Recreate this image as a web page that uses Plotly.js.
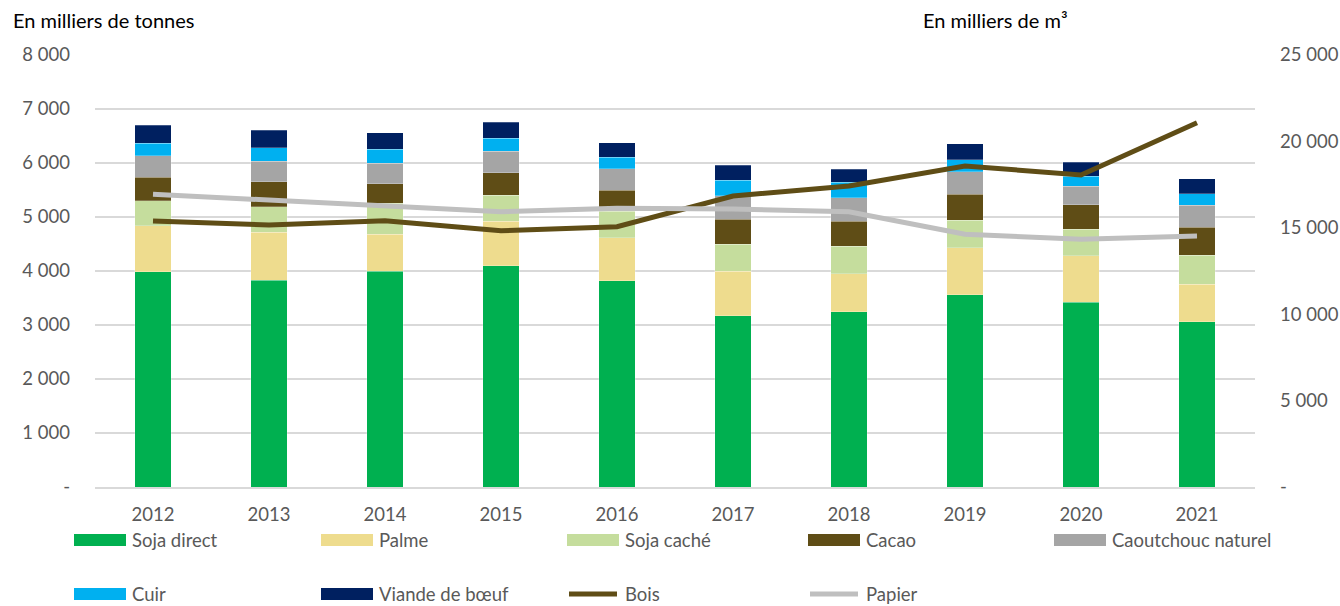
<!DOCTYPE html>
<html>
<head>
<meta charset="utf-8">
<script src="https://cdn.plot.ly/plotly-3.0.1.min.js"></script>
<style>html,body{margin:0;padding:0;background:#fff;}#chart{width:1340px;height:606px;}</style>
</head>
<body>
<div id="chart"></div>
<script>
const years = ['2012','2013','2014','2015','2016','2017','2018','2019','2020','2021'];
const sojaDirect = [3987, 3833, 3994, 4099, 3815, 3167, 3241, 3562, 3420, 3056];
const palme      = [852, 883, 691, 827, 802, 827, 710, 870, 858, 697];
const sojaCache  = [463, 475, 568, 475, 488, 506, 512, 512, 494, 537];
const cacao      = [433, 463, 364, 420, 395, 463, 463, 476, 456, 519];
const caoutchouc = [395, 383, 383, 401, 389, 426, 432, 420, 340, 407];
const cuir       = [240, 247, 253, 235, 216, 296, 290, 216, 191, 216];
const viande     = [328, 321, 309, 296, 272, 278, 235, 296, 254, 278];
const bois       = [15394, 15162, 15411, 14833, 15064, 16840, 17419, 18576, 18056, 21083];
const papier     = [16939, 16609, 16319, 15933, 16127, 16088, 15933, 14624, 14333, 14525];

const leftTickVals = [0,1000,2000,3000,4000,5000,6000,7000,8000];
const leftTickText = ['-','1 000','2 000','3 000','4 000','5 000','6 000','7 000','8 000'];
const rightTickVals = [0,5000,10000,15000,20000,25000];
const rightTickText = ['-','5 000','10 000','15 000','20 000','25 000'];

const barSeries = [
  {name:'Soja direct', y:sojaDirect, color:'#00B050'},
  {name:'Palme', y:palme, color:'#EEDC8E'},
  {name:'Soja caché', y:sojaCache, color:'#C5DD9D'},
  {name:'Cacao', y:cacao, color:'#5F4D16'},
  {name:'Caoutchouc naturel', y:caoutchouc, color:'#A5A5A5'},
  {name:'Cuir', y:cuir, color:'#00B0F0'},
  {name:'Viande de bœuf', y:viande, color:'#002060'}
];
const lineSeries = [
  {name:'Bois', y:bois, color:'#5F4D16'},
  {name:'Papier', y:papier, color:'#BFBFBF'}
];

const FONT = 'Lato, "Noto Sans", sans-serif';
const traces = [];
barSeries.forEach(s => traces.push({
  type:'bar', x:years, y:s.y, name:s.name, marker:{color:s.color, line:{color:'rgba(255,255,255,0.5)', width:0.5}},
  showlegend:false, hoverinfo:'x+y+name'
}));
lineSeries.forEach(s => traces.push({
  type:'scatter', mode:'lines', x:years, y:s.y, name:s.name, yaxis:'y2',
  line:{color:s.color, width:5}, showlegend:false
}));

// Plot area in pixels
const L = 95, R = 1255, T = 55, B = 487;
const px = v => (v - L) / (R - L);
const py = v => (B - v) / (B - T);

// Custom legend (layout only)
const legendItems = barSeries.map(s => ({name:s.name, color:s.color, kind:'bar'}))
  .concat(lineSeries.map(s => ({name:s.name, color:s.color, kind:'line'})));
const colX = [74, 321, 567, 808, 1054];
const rowY = [540, 594];
const shapes = [];
const annotations = [];
legendItems.forEach((it, i) => {
  const r = Math.floor(i / 5), c = i % 5;
  const x0 = colX[c], x1 = colX[c] + 52, yc = rowY[r];
  if (it.kind === 'bar') {
    shapes.push({type:'rect', xref:'paper', yref:'paper', x0:px(x0), x1:px(x1), y0:py(yc+6), y1:py(yc-6),
      fillcolor:it.color, line:{width:0}});
  } else {
    shapes.push({type:'line', xref:'paper', yref:'paper', x0:px(x0+2), x1:px(x1-2), y0:py(yc), y1:py(yc),
      line:{color:it.color, width:5}});
  }
  annotations.push({xref:'paper', yref:'paper', x:px(x1+4), y:py(yc), text:it.name, showarrow:false,
    xanchor:'left', yanchor:'middle', font:{family:FONT, size:18.5, color:'#595959'}});
});
annotations.push({xref:'paper', yref:'paper', x:px(11), y:py(20), text:'En milliers de tonnes', showarrow:false,
  xanchor:'left', yanchor:'middle', font:{family:FONT, size:20, color:'#000000'}});
annotations.push({xref:'paper', yref:'paper', x:px(921), y:py(20), text:'En milliers de m³', showarrow:false,
  xanchor:'left', yanchor:'middle', font:{family:FONT, size:20, color:'#000000'}});

const layout = {
  width:1340, height:606,
  margin:{l:L, r:1340-R, t:T, b:606-B, pad:0},
  paper_bgcolor:'#ffffff', plot_bgcolor:'#ffffff',
  barmode:'stack', bargap:0.685,
  font:{family:FONT, size:18, color:'#595959'},
  xaxis:{type:'category', showgrid:false, showline:true, linecolor:'#D9D9D9', linewidth:1.5,
    ticks:'', ticklabelstandoff:10, tickfont:{family:FONT, size:18.5, color:'#595959'}},
  yaxis:{range:[0,8000], tickvals:leftTickVals, ticktext:leftTickText, showgrid:true, gridcolor:'#D9D9D9', gridwidth:1.5,
    zeroline:false, showline:false, ticks:'', ticklabelstandoff:24, tickfont:{family:FONT, size:18.5, color:'#595959'}},
  yaxis2:{range:[0,25000], overlaying:'y', side:'right', tickvals:rightTickVals, ticktext:rightTickText,
    showgrid:false, zeroline:false, showline:false, ticks:'', ticklabelstandoff:24,
    tickfont:{family:FONT, size:18.5, color:'#595959'}},
  shapes:shapes,
  annotations:annotations,
  showlegend:false
};

Plotly.newPlot('chart', traces, layout, {displayModeBar:false, staticPlot:true});
</script>
</body>
</html>
